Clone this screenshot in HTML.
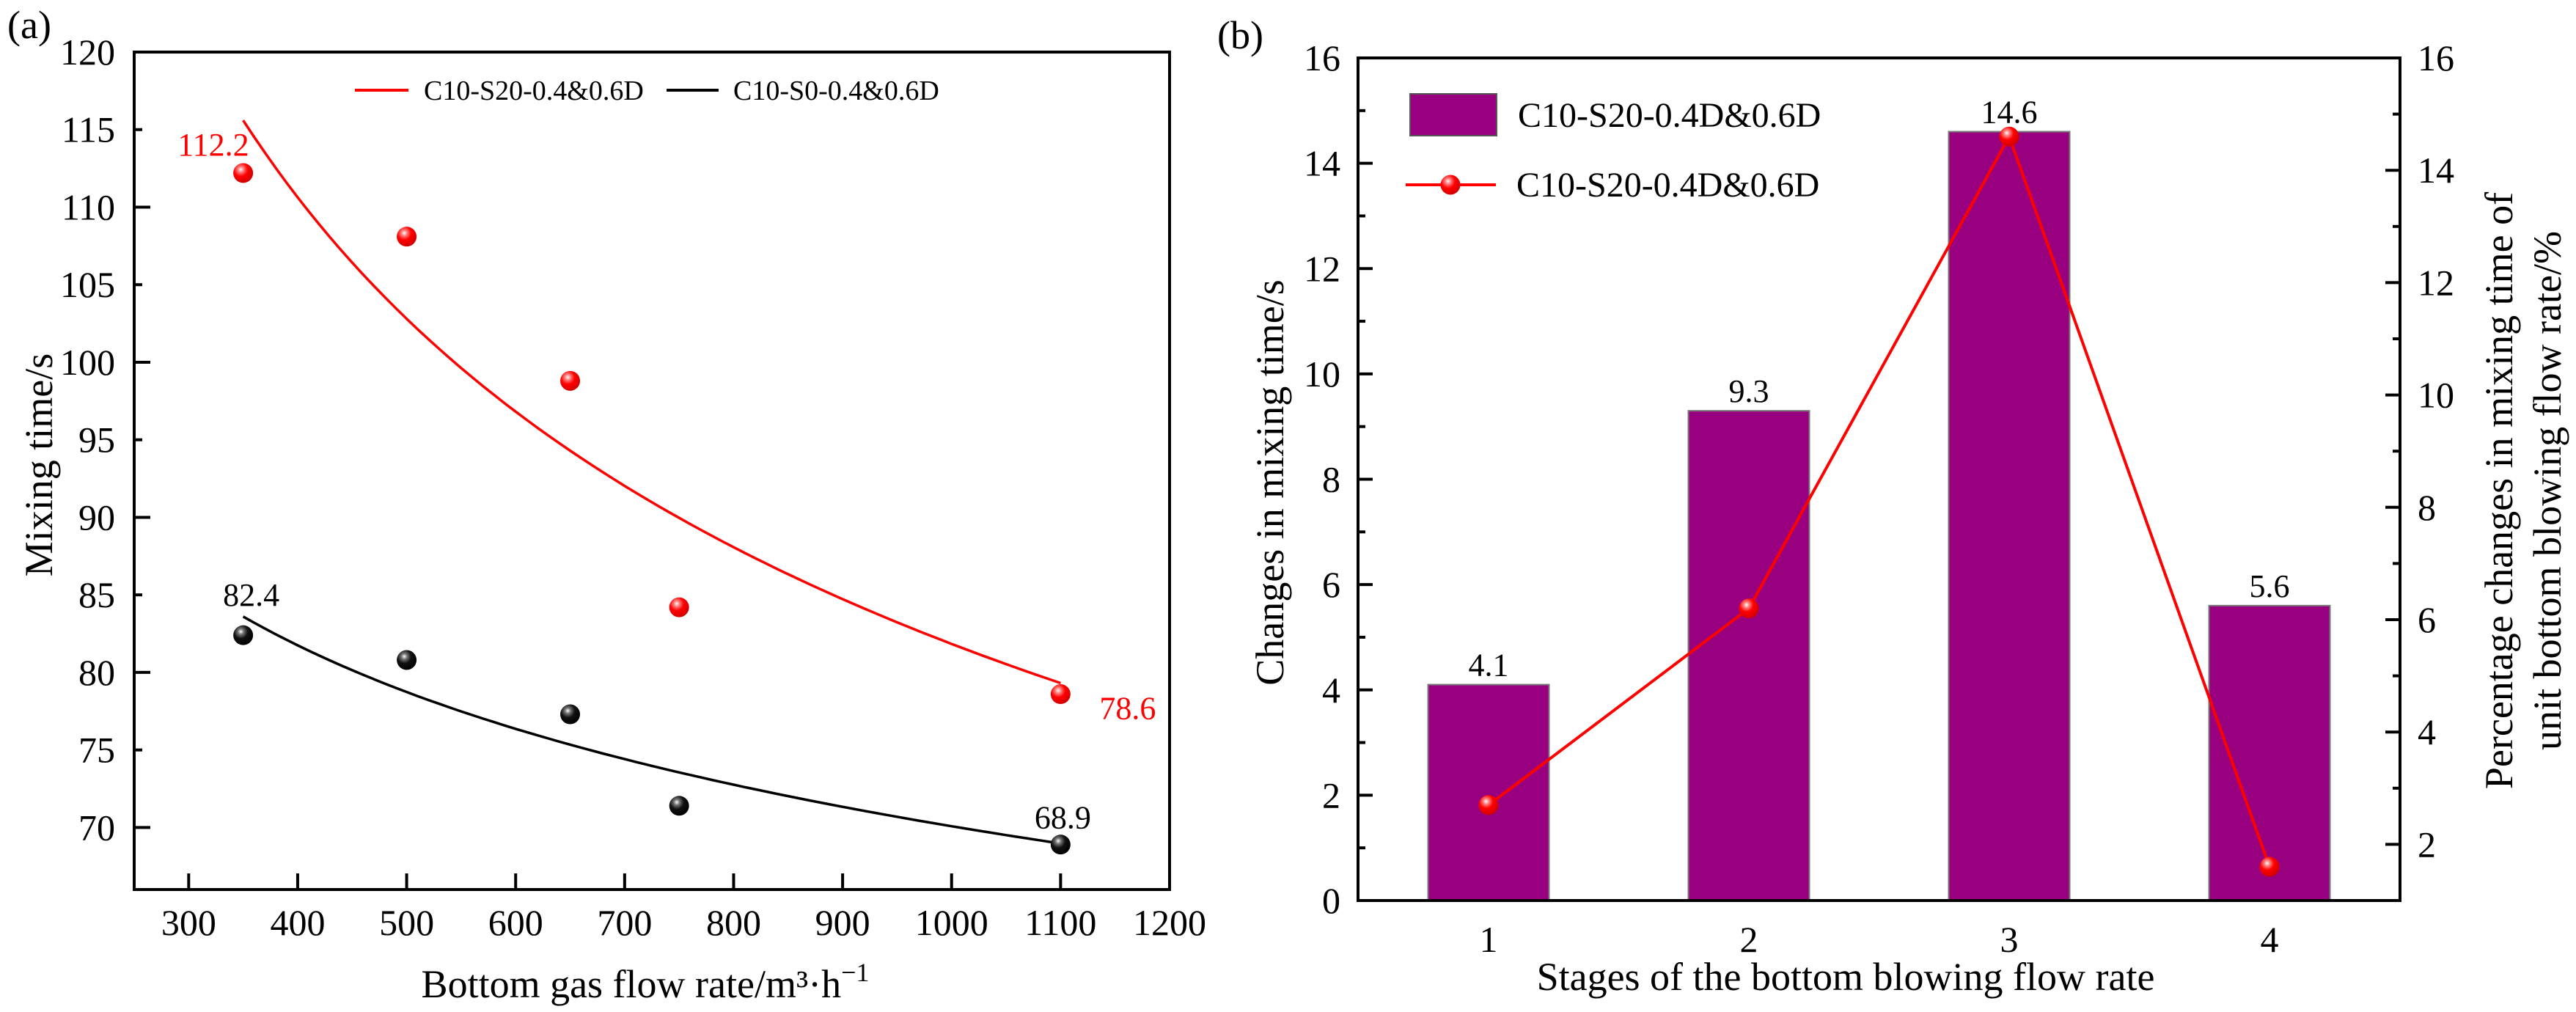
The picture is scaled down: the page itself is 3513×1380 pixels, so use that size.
<!DOCTYPE html>
<html><head><meta charset="utf-8">
<style>
html,body{margin:0;padding:0;background:#fff;}
svg{display:block;font-family:"Liberation Serif",serif;}
</style></head>
<body>
<svg id="fig" width="3513" height="1380" viewBox="0 0 3513 1380" xmlns="http://www.w3.org/2000/svg">
<defs>
<radialGradient id="gRed" cx="0.38" cy="0.32" r="0.7">
<stop offset="0" stop-color="#ffffff"/><stop offset="0.2" stop-color="#ff8080"/><stop offset="0.5" stop-color="#ff0000"/><stop offset="1" stop-color="#d00000"/>
</radialGradient>
<radialGradient id="gBlk" cx="0.38" cy="0.32" r="0.7">
<stop offset="0" stop-color="#ffffff"/><stop offset="0.2" stop-color="#777"/><stop offset="0.5" stop-color="#111"/><stop offset="1" stop-color="#000"/>
</radialGradient>
</defs>
</svg>
<script>
// ---- Panel (a) data ----
const flowRates = [350, 500, 650, 750, 1100];
const redTimes = [112.2, 108.1, 98.8, 84.2, 78.6];
const blackTimes = [82.4, 80.8, 77.3, 71.4, 68.9];
const redFit = [115.6, -0.329];   // y = a*(x/350)^b
const blackFit = [83.6, -0.168];
const aXTicks = [300, 400, 500, 600, 700, 800, 900, 1000, 1100, 1200];
const aYTicks = [70, 75, 80, 85, 90, 95, 100, 105, 110, 115, 120];
// ---- Panel (b) data ----
const stages = [1, 2, 3, 4];
const stageChanges = [4.1, 9.3, 14.6, 5.6];
const stagePercent = [2.7, 6.2, 14.6, 1.6];
const bLeftTicks = [0, 2, 4, 6, 8, 10, 12, 14, 16];
const bRightTicks = [2, 4, 6, 8, 10, 12, 14, 16];

const NS = "http://www.w3.org/2000/svg";
const svg = document.getElementById('fig');
function mk(tag, attrs, parent, text) {
  const e = document.createElementNS(NS, tag);
  for (const k in attrs) e.setAttribute(k, attrs[k]);
  if (text !== undefined) e.textContent = text;
  (parent || svg).appendChild(e);
  return e;
}

// ===== Panel a =====
const aL = 183, aR = 1595, aT = 71, aB = 1213;
const axMin = 250, axMax = 1200;
const ayMin = 66, ayMax = 120;
const ax = v => aL + (v - axMin) * (aR - aL) / (axMax - axMin);
const ay = v => aT + (ayMax - v) * (aB - aT) / (ayMax - ayMin);

const gA = mk('g', {});


const frameA = mk('rect', {x: aL, y: aT, width: aR - aL, height: aB - aT, fill: 'none', stroke: '#000', 'stroke-width': 4}, gA);


aXTicks.forEach(t => {
  const tk = mk('line', {x1: ax(t), x2: ax(t), y1: aB, y2: aB - 22, stroke: '#000', 'stroke-width': 4}, gA);
  
  
  const lb = mk('text', {x: ax(t), y: aB + 62, 'font-size': 50, 'text-anchor': 'middle'}, gA, String(t));
  
  
});
aYTicks.forEach(t => {
  const major = t % 10 === 0;
  const tk = mk('line', {x1: aL, x2: aL + (major ? 22 : 11), y1: ay(t), y2: ay(t), stroke: '#000', 'stroke-width': 4}, gA);
  
  
  const lb = mk('text', {x: aL - 26, y: ay(t) + 17, 'font-size': 50, 'text-anchor': 'end'}, gA, String(t));
  
  
});
function fitPath(fit) {
  let d = '';
  for (let x = 350; x <= 1100; x += 10) {
    const y = fit[0] * Math.pow(x / 350, fit[1]);
    d += (d ? 'L' : 'M') + ax(x).toFixed(1) + ',' + ay(y).toFixed(1);
  }
  return d;
}
const fitR = mk('path', {d: fitPath(redFit), fill: 'none', stroke: '#ff0000', 'stroke-width': 3.5}, gA);


const fitK = mk('path', {d: fitPath(blackFit), fill: 'none', stroke: '#000', 'stroke-width': 3.5}, gA);


flowRates.forEach((f, i) => {
  const r = mk('circle', {cx: ax(f), cy: ay(redTimes[i]), r: 13.5, fill: 'url(#gRed)'}, gA);
  
  
  const k = mk('circle', {cx: ax(f), cy: ay(blackTimes[i]), r: 13.5, fill: 'url(#gBlk)'}, gA);
  
  
});
const n = flowRates.length - 1;
const l1 = mk('text', {x: ax(flowRates[0]) + 8, y: ay(redTimes[0]) - 24, 'font-size': 44, 'text-anchor': 'end', fill: '#ff0000'}, gA, String(redTimes[0]));


const l2 = mk('text', {x: ax(flowRates[n]) + 53, y: ay(redTimes[n]) + 34, 'font-size': 44, fill: '#ff0000'}, gA, String(redTimes[n]));


const l3 = mk('text', {x: ax(flowRates[0]) + 11, y: ay(blackTimes[0]) - 40, 'font-size': 44, 'text-anchor': 'middle'}, gA, String(blackTimes[0]));


const l4 = mk('text', {x: ax(flowRates[n]) + 3, y: ay(blackTimes[n]) - 22, 'font-size': 44, 'text-anchor': 'middle'}, gA, String(blackTimes[n]));


// legend a
const legA = mk('g', {}, gA);


mk('line', {x1: 484, x2: 557, y1: 123, y2: 123, stroke: '#ff0000', 'stroke-width': 4}, legA);
const lgt1 = mk('text', {x: 578, y: 136, 'font-size': 38}, legA, 'C10-S20-0.4&0.6D');


mk('line', {x1: 909, x2: 980, y1: 123, y2: 123, stroke: '#000', 'stroke-width': 4}, legA);
const lgt2 = mk('text', {x: 1000, y: 136, 'font-size': 38}, legA, 'C10-S0-0.4&0.6D');


const ytA = mk('text', {x: 0, y: 0, 'font-size': 54, 'text-anchor': 'middle', transform: 'translate(71,634) rotate(-90)'}, gA, 'Mixing time/s');


const xtA = mk('text', {x: 880, y: 1360, 'font-size': 54, 'text-anchor': 'middle'}, gA);


xtA.innerHTML = 'Bottom gas flow rate/m³·h<tspan dy="-22" font-size="36">−1</tspan>';
const pa = mk('text', {x: 10, y: 52, 'font-size': 54}, gA, '(a)');



// ===== Panel b =====
const bL = 1852, bR = 3273, bT = 79, bB = 1228;
const bx = v => 1675 + v * 355;
const byL = v => bB - v * (bB - bT) / 16;
const byR = v => bB - (v - 1) * (bB - bT) / 15;
const gB = mk('g', {});


stages.forEach((s, i) => {
  const w = 165;
  const bar = mk('rect', {x: bx(s) - w / 2, y: byL(stageChanges[i]), width: w, height: bB - byL(stageChanges[i]), fill: '#990080', stroke: '#777', 'stroke-width': 2}, gB);
  
  
  const lb = mk('text', {x: bx(s), y: byL(stageChanges[i]) - 12, 'font-size': 44, 'text-anchor': 'middle'}, gB, String(stageChanges[i]));
  
  
  const xl = mk('text', {x: bx(s), y: bB + 70, 'font-size': 50, 'text-anchor': 'middle'}, gB, String(s));
  
  
});
const pts = stages.map((s, i) => bx(s).toFixed(1) + ',' + byR(stagePercent[i]).toFixed(1)).join(' ');
const pl = mk('polyline', {points: pts, fill: 'none', stroke: '#ff0000', 'stroke-width': 4}, gB);


stages.forEach((s, i) => {
  const c = mk('circle', {cx: bx(s), cy: byR(stagePercent[i]), r: 13.5, fill: 'url(#gRed)'}, gB);
  
  
});
const frameB = mk('rect', {x: bL, y: bT, width: bR - bL, height: bB - bT, fill: 'none', stroke: '#000', 'stroke-width': 4}, gB);


for (let v = 1; v <= 15; v++) {
  const tk = mk('line', {x1: bL, x2: bL + (v % 2 === 0 ? 20 : 10), y1: byL(v), y2: byL(v), stroke: '#000', 'stroke-width': 4}, gB);
  
  
}
bLeftTicks.forEach(t => {
  const lb = mk('text', {x: bL - 24, y: byL(t) + 17, 'font-size': 50, 'text-anchor': 'end'}, gB, String(t));
  
  
});
for (let v = 2; v <= 15; v++) {
  const tk = mk('line', {x1: bR, x2: bR - (v % 2 === 0 ? 20 : 10), y1: byR(v), y2: byR(v), stroke: '#000', 'stroke-width': 4}, gB);
  
  
}
bRightTicks.forEach(t => {
  const lb = mk('text', {x: bR + 24, y: byR(t) + 17, 'font-size': 50}, gB, String(t));
  
  
});
// legend b
const legB = mk('g', {}, gB);


mk('rect', {x: 1923, y: 128, width: 118, height: 57, fill: '#990080', stroke: '#555', 'stroke-width': 2}, legB);
const lb1 = mk('text', {x: 2070, y: 173, 'font-size': 48}, legB, 'C10-S20-0.4D&0.6D');


mk('line', {x1: 1917, x2: 2040, y1: 252, y2: 252, stroke: '#ff0000', 'stroke-width': 4}, legB);
mk('circle', {cx: 1978, cy: 252, r: 13.5, fill: 'url(#gRed)'}, legB);
const lb2 = mk('text', {x: 2068, y: 268, 'font-size': 48}, legB, 'C10-S20-0.4D&0.6D');


const ytB = mk('text', {x: 0, y: 0, 'font-size': 54, 'text-anchor': 'middle', transform: 'translate(1750,658) rotate(-90)'}, gB, 'Changes in mixing time/s');


const yr1 = mk('text', {x: 0, y: 0, 'font-size': 54, 'text-anchor': 'middle', transform: 'translate(3426,669) rotate(-90)'}, gB, 'Percentage changes in mixing time of');


const yr2 = mk('text', {x: 0, y: 0, 'font-size': 54, 'text-anchor': 'middle', transform: 'translate(3492,669) rotate(-90)'}, gB, 'unit bottom blowing flow rate/%');


const xtB = mk('text', {x: 2517, y: 1350, 'font-size': 54, 'text-anchor': 'middle'}, gB, 'Stages of the bottom blowing flow rate');


const pb = mk('text', {x: 1660, y: 66, 'font-size': 54}, gB, '(b)');


</script>
</body></html>
